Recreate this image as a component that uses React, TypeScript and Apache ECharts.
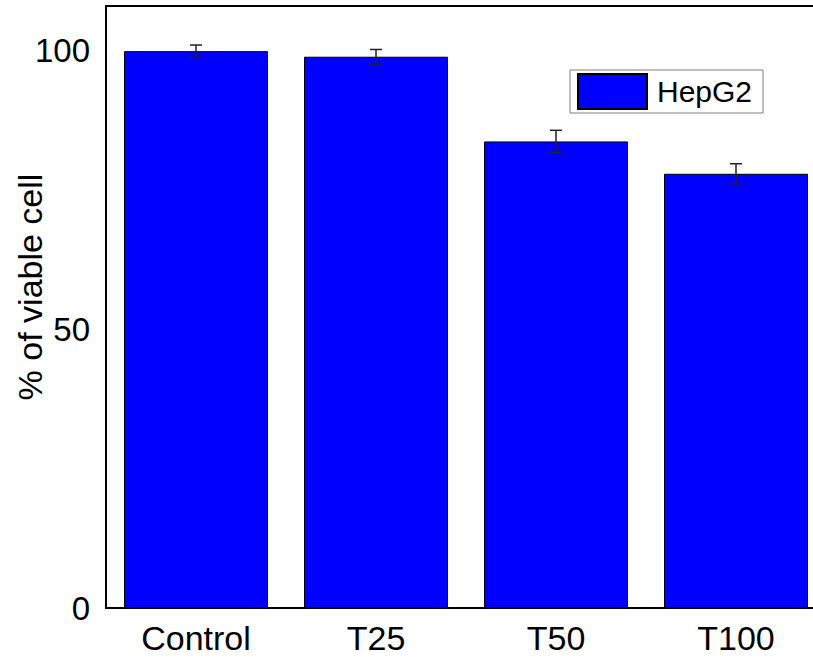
import React, { useEffect, useRef } from "react";
import * as echarts from "echarts";

// Cell viability per treatment group (HepG2)
const categories = ["Control", "T25", "T50", "T100"];
const viability = [99.9, 98.9, 83.7, 77.9];
const viabilityError = [1.1, 1.3, 2.0, 1.8];
const yTicks = [0, 50, 100];
const yTitle = "% of viable cell";

const FONT = "'Liberation Sans', Arial, Helvetica, sans-serif";

export default function App() {
  const ref = useRef<HTMLDivElement>(null);

  useEffect(() => {
    if (!ref.current) return;
    const chart = echarts.init(ref.current, null, { renderer: "svg" });

    const errorData = viability.map((v, i) => [i, v - viabilityError[i], v + viabilityError[i]]);

    chart.setOption({
      animation: false,
      backgroundColor: "#ffffff",
      textStyle: { fontFamily: FONT },
      grid: {
        left: 106,
        top: 6,
        width: 720,
        height: 602,
        outerBoundsMode: "none",
        containLabel: false,
        show: true,
        borderColor: "#000000",
        borderWidth: 2,
        backgroundColor: "transparent",
      },
      legend: {
        data: ["HepG2"],
        left: 570,
        top: 70,
        orient: "vertical",
        icon: "rect",
        itemWidth: 69,
        itemHeight: 35,
        padding: [3, 11, 3, 7],
        borderColor: "#808080",
        borderWidth: 1,
        borderRadius: 0,
        textStyle: {
          fontFamily: FONT,
          fontSize: 30,
          color: "#000000",
          padding: [0, 0, 0, 5],
        },
      },
      // rotated y-axis title
      graphic: [
        {
          type: "text",
          x: 30,
          y: 287,
          rotation: Math.PI / 2,
          style: {
            text: yTitle,
            fontFamily: FONT,
            fontSize: 34,
            fill: "#000000",
            align: "center",
            verticalAlign: "middle",
          },
        },
      ],
      xAxis: {
        type: "category",
        data: categories,
        axisLine: { show: false },
        axisTick: { show: false },
        axisLabel: {
          fontFamily: FONT,
          fontSize: 34,
          color: "#000000",
          margin: 13,
        },
        splitLine: { show: false },
      },
      yAxis: {
        type: "value",
        min: 0,
        max: 108,
        interval: 50,
        axisLine: { show: false },
        axisTick: { show: false },
        splitLine: { show: false },
        axisLabel: {
          fontFamily: FONT,
          fontSize: 33,
          color: "#000000",
          margin: 16,
          showMaxLabel: false,
          formatter: (v: number) => (yTicks.includes(v) ? String(v) : ""),
        },
      },
      series: [
        {
          name: "HepG2",
          type: "bar",
          data: viability,
          barWidth: 144,
          itemStyle: {
            color: "#0000ff",
            borderColor: "#000000",
            borderWidth: 1,
          },
        },
        {
          name: "error",
          type: "custom",
          data: errorData,
          z: 10,
          renderItem: (params: any, api: any) => {
            const x = api.value(0);
            const lo = api.coord([x, api.value(1)]);
            const hi = api.coord([x, api.value(2)]);
            const half = 6;
            const style = { stroke: "#222222", lineWidth: 1.5 };
            return {
              type: "group",
              children: [
                { type: "line", shape: { x1: hi[0], y1: hi[1], x2: lo[0], y2: lo[1] }, style },
                { type: "line", shape: { x1: hi[0] - half, y1: hi[1], x2: hi[0] + half, y2: hi[1] }, style },
                { type: "line", shape: { x1: lo[0] - half, y1: lo[1], x2: lo[0] + half, y2: lo[1] }, style },
              ],
            };
          },
        },
      ],
    });

    return () => chart.dispose();
  }, []);

  return (
    <div
      ref={ref}
      style={{ position: "fixed", left: 0, top: 0, width: 813, height: 657 }}
    />
  );
}
